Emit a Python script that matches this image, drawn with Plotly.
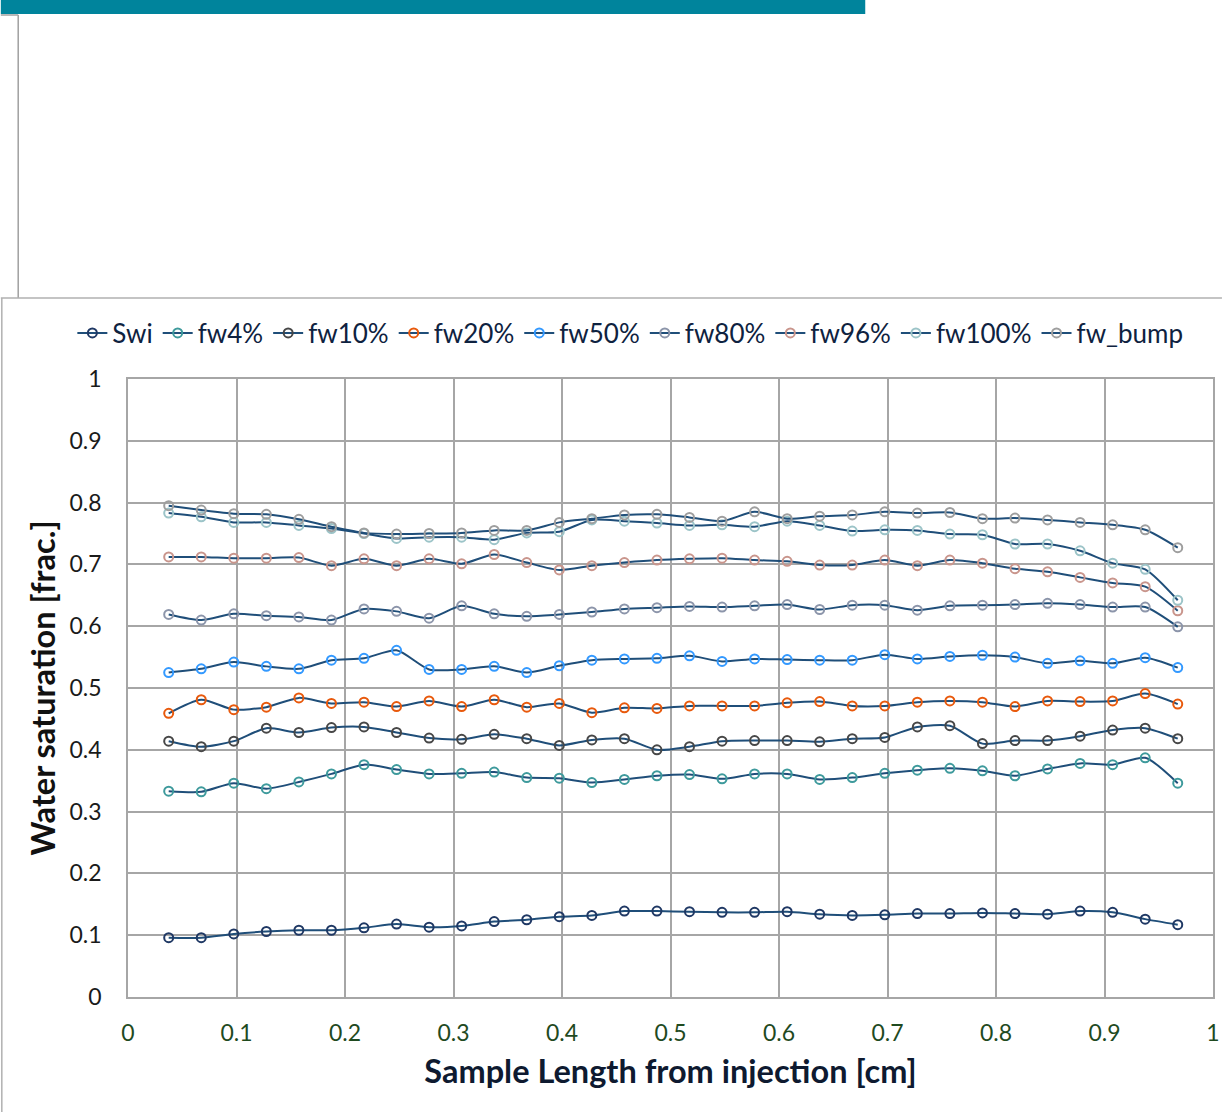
import plotly.graph_objects as go

# ---------------- data ----------------
x_pos = [0.0375, 0.0675, 0.0975, 0.1275, 0.1575, 0.1875, 0.2175, 0.2475, 0.2775, 0.3075,
         0.3375, 0.3675, 0.3975, 0.4275, 0.4575, 0.4875, 0.5175, 0.5475, 0.5775, 0.6075,
         0.6375, 0.6675, 0.6975, 0.7275, 0.7575, 0.7875, 0.8175, 0.8475, 0.8775, 0.9075,
         0.9375, 0.9675]

swi = [0.096, 0.096, 0.102, 0.106, 0.108, 0.108, 0.112, 0.118, 0.113, 0.115, 0.122, 0.125,
       0.130, 0.132, 0.139, 0.139, 0.138, 0.137, 0.137, 0.138, 0.134, 0.132, 0.133, 0.135,
       0.135, 0.136, 0.135, 0.134, 0.139, 0.137, 0.126, 0.117]
fw4 = [0.333, 0.332, 0.346, 0.337, 0.348, 0.361, 0.376, 0.368, 0.361, 0.362, 0.364,
       0.355, 0.354, 0.347, 0.352, 0.358, 0.360, 0.353, 0.361, 0.361, 0.352, 0.355, 0.362, 0.367,
       0.370, 0.366, 0.358, 0.369, 0.378, 0.376, 0.387, 0.346]
fw10 = [0.414, 0.405, 0.414, 0.435, 0.428, 0.436, 0.437, 0.428, 0.419, 0.417, 0.425,
        0.418, 0.407, 0.416, 0.418, 0.400, 0.405, 0.414, 0.415, 0.415, 0.413, 0.418, 0.420, 0.437,
        0.439, 0.410, 0.415, 0.415, 0.422, 0.432, 0.435, 0.418]
fw20 = [0.459, 0.481, 0.465, 0.469, 0.484, 0.475, 0.477, 0.470, 0.479, 0.470, 0.481,
        0.469, 0.475, 0.460, 0.468, 0.467, 0.471, 0.471, 0.471, 0.476, 0.478, 0.471, 0.471, 0.477,
        0.479, 0.477, 0.470, 0.479, 0.478, 0.479, 0.491, 0.474]
fw50 = [0.525, 0.531, 0.542, 0.535, 0.531, 0.545, 0.548, 0.561, 0.530, 0.530, 0.535,
        0.525, 0.536, 0.545, 0.547, 0.548, 0.552, 0.543, 0.547, 0.546, 0.545, 0.545, 0.554, 0.547,
        0.551, 0.553, 0.550, 0.540, 0.544, 0.540, 0.549, 0.533]
fw80 = [0.619, 0.610, 0.620, 0.617, 0.615, 0.610, 0.628, 0.624, 0.613, 0.633, 0.620, 0.616,
        0.619, 0.623, 0.628, 0.630, 0.632, 0.631, 0.633, 0.635, 0.627, 0.634, 0.634, 0.626,
        0.633, 0.634, 0.635, 0.637, 0.635, 0.631, 0.631, 0.599]
fw96 = [0.712, 0.712, 0.710, 0.710, 0.711, 0.698, 0.709, 0.698, 0.709, 0.701, 0.716, 0.703,
        0.691, 0.698, 0.703, 0.707, 0.709, 0.710, 0.707, 0.705, 0.699, 0.699, 0.707, 0.698,
        0.707, 0.702, 0.693, 0.688, 0.679, 0.670, 0.664, 0.625]
fw100 = [0.783, 0.777, 0.768, 0.768, 0.763, 0.758, 0.750, 0.742, 0.744, 0.744, 0.740, 0.751,
         0.753, 0.772, 0.770, 0.767, 0.763, 0.764, 0.761, 0.770, 0.763, 0.754, 0.756, 0.755,
         0.749, 0.748, 0.733, 0.733, 0.722, 0.702, 0.692, 0.642]
fw_bump = [0.795, 0.788, 0.782, 0.781, 0.773, 0.761, 0.751, 0.749, 0.750, 0.751, 0.755, 0.755,
           0.768, 0.774, 0.780, 0.781, 0.776, 0.770, 0.785, 0.774, 0.778, 0.780, 0.785, 0.783,
           0.784, 0.774, 0.775, 0.772, 0.768, 0.764, 0.756, 0.727]

series_names = ["Swi", "fw4%", "fw10%", "fw20%", "fw50%", "fw80%", "fw96%", "fw100%", "fw_bump"]
series_values = [swi, fw4, fw10, fw20, fw50, fw80, fw96, fw100, fw_bump]
marker_colors = ["#1F3864", "#3E9A9C", "#474747", "#E8590C", "#3399FF",
                 "#8C95AA", "#C9958C", "#9CC4C8", "#9E9E9E"]

x_ticks = [0, 0.1, 0.2, 0.3, 0.4, 0.5, 0.6, 0.7, 0.8, 0.9, 1]
x_tick_text = ["0", "0.1", "0.2", "0.3", "0.4", "0.5", "0.6", "0.7", "0.8", "0.9", "1"]
y_ticks = [0, 0.1, 0.2, 0.3, 0.4, 0.5, 0.6, 0.7, 0.8, 0.9, 1]
y_tick_text = ["0", "0.1", "0.2", "0.3", "0.4", "0.5", "0.6", "0.7", "0.8", "0.9", "1"]

# ---------------- layout constants ----------------
W, H = 1229, 1112
L, R, T, B = 128, 9, 379, 115
PW, PH = W - L - R, H - T - B
LINE_COLOR = "#1F4E79"
GRID = "#A6A6A6"
FONT = "Lato, 'Open Sans', sans-serif"


def px(xp):
    return (xp - L) / PW


def py(yp):
    return (H - B - yp) / PH


fig = go.Figure()
for name, vals, mc in zip(series_names, series_values, marker_colors):
    fig.add_trace(go.Scatter(
        x=x_pos, y=vals, name=name, mode="lines+markers",
        line=dict(color=LINE_COLOR, width=2, shape="spline", smoothing=0.7),
        marker=dict(symbol="circle-open", size=9, color=mc, line=dict(width=2, color=mc)),
    ))

# decorative page elements (outside plot)
shapes = [
    dict(type="rect", xref="paper", yref="paper", x0=px(0), x1=px(870), y0=py(0), y1=py(14),
         fillcolor="#00849C", line=dict(width=0), layer="above"),
    dict(type="line", xref="paper", yref="paper", x0=px(17.5), x1=px(17.5), y0=py(15), y1=py(298),
         line=dict(color="#A0A0A0", width=1.5)),
    dict(type="line", xref="paper", yref="paper", x0=px(0), x1=px(17.5), y0=py(15), y1=py(15),
         line=dict(color="#A0A0A0", width=1.5)),
    dict(type="line", xref="paper", yref="paper", x0=px(0), x1=px(1229), y0=py(298), y1=py(298),
         line=dict(color="#B0B0B0", width=1.5)),
    dict(type="line", xref="paper", yref="paper", x0=px(1), x1=px(1), y0=py(298), y1=py(1112),
         line=dict(color="#B0B0B0", width=1.5)),
]

fig.update_layout(
    width=W, height=H,
    margin=dict(l=L, r=R, t=T, b=B, pad=0),
    paper_bgcolor="white", plot_bgcolor="white",
    font=dict(family=FONT, size=23, color="#1a1a1a"),
    showlegend=True,
    legend=dict(orientation="h", x=px(72), xanchor="left", y=py(333), yanchor="middle",
                font=dict(family=FONT, size=26, color="#0E2240"),
                bgcolor="rgba(0,0,0,0)", itemwidth=30, tracegroupgap=0),
    shapes=shapes,
    xaxis=dict(range=[0, 1], tickvals=x_ticks, ticktext=x_tick_text,
               showgrid=True, gridcolor=GRID, gridwidth=1.5, zeroline=False,
               showline=True, linecolor=GRID, linewidth=1.5, mirror=True,
               ticks="", ticklabelstandoff=15,
               tickfont=dict(family=FONT, size=23, color="#1F4A1F"),
               title=dict(text="<b>Sample Length from injection [cm]</b>", standoff=15,
                          font=dict(family=FONT, size=32.5, color="#0E1A30"))),
    yaxis=dict(range=[0, 1], tickvals=y_ticks, ticktext=y_tick_text,
               showgrid=True, gridcolor=GRID, gridwidth=1.5, zeroline=False,
               showline=True, linecolor=GRID, linewidth=1.5, mirror=True,
               ticks="", ticklabelstandoff=20,
               tickfont=dict(family=FONT, size=23, color="#1a1a1a"),
               title=dict(text="<b>Water saturation [frac.]</b>", standoff=4,
                          font=dict(family=FONT, size=32.5, color="#111111"))),
)

fig.write_html("out.html")
